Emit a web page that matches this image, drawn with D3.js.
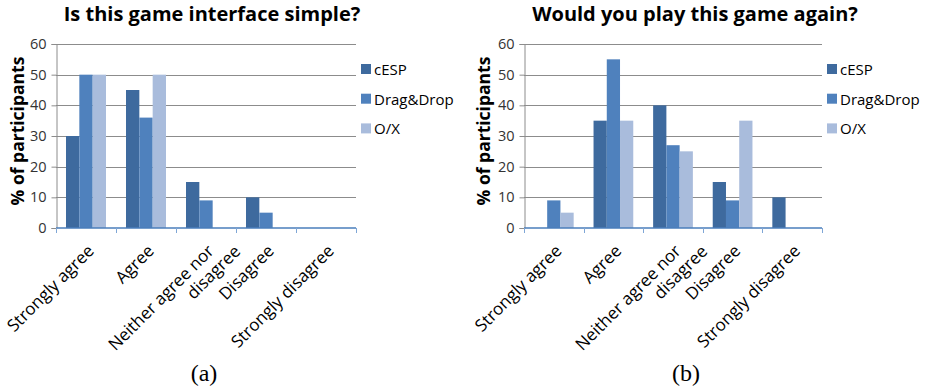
<!DOCTYPE html>
<html>
<head>
<meta charset="utf-8">
<script src="https://cdn.jsdelivr.net/npm/d3@7"></script>
<style>
  html, body { margin: 0; padding: 0; background: #fff; }
  svg { display: block; }
</style>
</head>
<body>
<svg id="fig" width="928" height="391"></svg>
<script>
// Likert answer categories ("\n" marks a wrapped label line)
const categories = ["Strongly agree", "Agree", "Neither agree nor\ndisagree", "Disagree", "Strongly disagree"];
const seriesNames = ["cESP", "Drag&Drop", "O/X"];
const seriesColors = ["#3E6A9E", "#4F81BD", "#A9BCDC"];
const yTicks = [0, 10, 20, 30, 40, 50, 60];

// (a) Is this game interface simple?
const simpleCESP = [30, 45, 15, 10, 0];
const simpleDragDrop = [50, 36, 9, 5, 0];
const simpleOX = [50, 50, 0, 0, 0];

// (b) Would you play this game again?
const againCESP = [0, 35, 40, 15, 10];
const againDragDrop = [9, 55, 27, 9, 0];
const againOX = [5, 35, 25, 35, 0];

const panels = [
  { title: "Is this game interface simple?", caption: "(a)",
    series: [simpleCESP, simpleDragDrop, simpleOX],
    x0: 56, x1: 356, titleX: 212, yLabelX: 17, legendX: 361, captionX: 204 },
  { title: "Would you play this game again?", caption: "(b)",
    series: [againCESP, againDragDrop, againOX],
    x0: 524, x1: 822, titleX: 695, yLabelX: 483, legendX: 827, captionX: 686 }
];

const svg = d3.select("#fig");
const font = "'Open Sans', sans-serif";
const yTop = 44, yZero = 228;

panels.forEach(p => {
  const g = svg.append("g");

  const x = d3.scaleBand().domain(d3.range(categories.length)).range([p.x0, p.x1]).padding(0);
  const xs = d3.scaleBand().domain(d3.range(seriesNames.length)).range([0, x.bandwidth()])
    .paddingInner(0).paddingOuter(0.75);
  const y = d3.scaleLinear().domain([0, 60]).range([yZero, yTop]);

  // title
  g.append("text")
    .attr("x", p.titleX).attr("y", 21)
    .attr("text-anchor", "middle")
    .style("font-family", font).style("font-weight", 700).style("font-size", "20px")
    .attr("fill", "#000")
    .text(p.title);

  // horizontal gridlines
  g.append("g").selectAll("line")
    .data(yTicks.filter(t => t > 0))
    .join("line")
    .attr("x1", p.x0).attr("x2", p.x1)
    .attr("y1", d => Math.round(y(d)) + 0.5).attr("y2", d => Math.round(y(d)) + 0.5)
    .attr("stroke", "#8C8C8C").attr("stroke-width", 1);

  // y axis
  const yAxis = g.append("g")
    .attr("transform", `translate(${p.x0 + 0.5},0)`)
    .call(d3.axisLeft(y).tickValues(yTicks).tickSize(5).tickPadding(5));
  yAxis.select(".domain").attr("stroke", "#8C8C8C");
  yAxis.selectAll(".tick line").attr("stroke", "#8C8C8C");
  yAxis.selectAll(".tick text")
    .style("font-family", font).style("font-size", "14.5px").attr("fill", "#333");

  // y axis title
  g.append("text")
    .attr("transform", `translate(${p.yLabelX},131) rotate(-90)`)
    .attr("text-anchor", "middle").attr("dominant-baseline", "central")
    .style("font-family", font).style("font-weight", 700).style("font-size", "17.5px")
    .attr("fill", "#000")
    .text("% of participants");

  // bars
  p.series.forEach((vals, si) => {
    g.append("g").selectAll("rect")
      .data(vals)
      .join("rect")
      .attr("x", (d, i) => x(i) + xs(si))
      .attr("width", xs.bandwidth())
      .attr("y", d => y(d))
      .attr("height", d => yZero - y(d))
      .attr("fill", seriesColors[si]);
  });

  // x axis line and category boundary ticks
  const xAxis = g.append("g");
  xAxis.append("line")
    .attr("x1", p.x0).attr("x2", p.x1)
    .attr("y1", yZero).attr("y2", yZero)
    .attr("stroke", "#4A7EBB").attr("stroke-width", 1.3);
  const bounds = d3.range(categories.length + 1).map(i => i < categories.length ? x(i) : p.x1);
  xAxis.selectAll("line.tk")
    .data(bounds)
    .join("line").attr("class", "tk")
    .attr("x1", d => Math.round(d) + 0.5).attr("x2", d => Math.round(d) + 0.5)
    .attr("y1", yZero).attr("y2", yZero + 5)
    .attr("stroke", "#7FA6D6").attr("stroke-width", 1);

  // rotated category labels
  categories.forEach((c, i) => {
    const cx = x(i) + x.bandwidth() / 2;
    const lines = c.split("\n");
    const t = xAxis.append("text")
      .attr("transform", `translate(${cx + 9},252) rotate(-45)`)
      .attr("text-anchor", "end")
      .style("font-family", font).style("font-size", "17px")
      .attr("fill", "#000");
    lines.forEach((ln, li) => {
      t.append("tspan")
        .attr("x", li * 18.4).attr("y", li * 19)
        .text(ln);
    });
  });

  // legend
  const lg = g.append("g");
  seriesNames.forEach((s, si) => {
    const cy = 69 + si * 29.7;
    lg.append("rect")
      .attr("x", p.legendX).attr("y", cy - 5)
      .attr("width", 10).attr("height", 10)
      .attr("fill", seriesColors[si]);
    lg.append("text")
      .attr("x", p.legendX + 13).attr("y", cy)
      .attr("dominant-baseline", "central")
      .style("font-family", font).style("font-size", "15px")
      .attr("fill", "#000")
      .text(s);
  });

  // caption
  g.append("text")
    .attr("x", p.captionX).attr("y", 381)
    .attr("text-anchor", "middle")
    .style("font-family", "'Liberation Serif', 'DejaVu Serif', serif").style("font-size", "24px")
    .attr("fill", "#000")
    .text(p.caption);
});
</script>
</body>
</html>
